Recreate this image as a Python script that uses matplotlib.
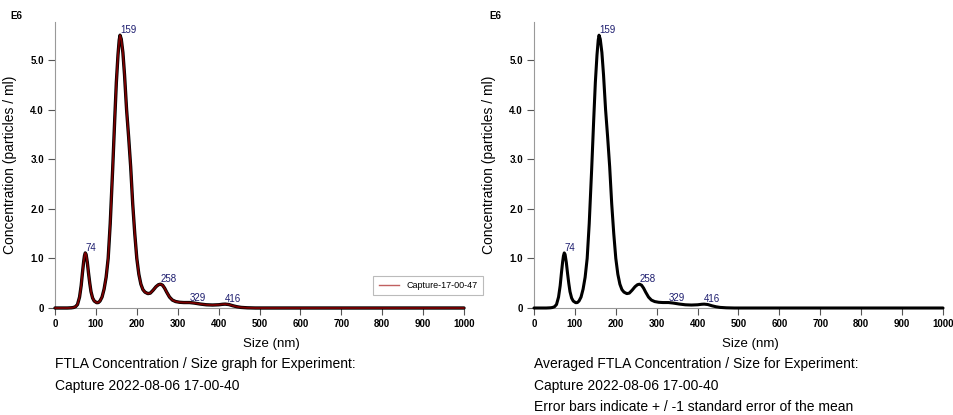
import matplotlib
matplotlib.use("Agg")
import matplotlib.pyplot as plt
from matplotlib.lines import Line2D

plt.rcParams['font.family'] = ['Liberation Sans', 'DejaVu Sans']

# Datos (tamano en nm, concentracion en E6 particulas/ml)
size_nm = [0, 30, 40, 45, 50, 55, 60, 64, 67, 70, 72, 74, 76, 79, 82, 85, 88, 92, 96,
           102, 106, 110, 115, 120, 125, 130, 135, 141, 146, 150, 154, 157, 159, 162,
           166, 170, 175, 180, 185, 190, 195, 200, 205, 210, 215, 220, 227, 233, 240,
           247, 253, 258, 263, 268, 273, 280, 287, 295, 305, 315, 329, 340, 355, 370,
           385, 400, 410, 416, 425, 435, 445, 455, 470, 490, 600, 800, 1000]
conc_capture = [0, 0, 0.004, 0.01, 0.025, 0.07, 0.22, 0.45, 0.7, 0.93, 1.05, 1.11, 1.08,
                0.92, 0.7, 0.5, 0.33, 0.2, 0.14, 0.107, 0.11, 0.14, 0.22, 0.38, 0.62,
                1.0, 1.7, 2.8, 3.8, 4.55, 5.1, 5.4, 5.5, 5.42, 5.15, 4.7, 4.0, 3.45,
                2.85, 2.1, 1.5, 1.0, 0.68, 0.48, 0.37, 0.32, 0.29, 0.3, 0.36, 0.43, 0.47,
                0.48, 0.46, 0.4, 0.32, 0.22, 0.16, 0.13, 0.115, 0.11, 0.11, 0.1, 0.08,
                0.065, 0.06, 0.065, 0.075, 0.078, 0.07, 0.045, 0.025, 0.012, 0.004, 0,
                0, 0, 0]
conc_avg = list(conc_capture)

peak_x = [74, 159, 258, 329, 416]
peak_y = [1.11, 5.5, 0.48, 0.11, 0.078]
peak_labels = ['74', '159', '258', '329', '416']

x_ticks = [0, 100, 200, 300, 400, 500, 600, 700, 800, 900, 1000]
y_ticks = [0, 1, 2, 3, 4, 5]
y_ticklabels = ['0', '1.0', '2.0', '3.0', '4.0', '5.0']

captions_left = ['FTLA Concentration / Size graph for Experiment:',
                 'Capture 2022-08-06 17-00-40']
captions_right = ['Averaged FTLA Concentration / Size for Experiment:',
                  'Capture 2022-08-06 17-00-40',
                  'Error bars indicate + / -1 standard error of the mean']

W, H = 954, 415
fig = plt.figure(figsize=(W / 100, H / 100), dpi=100)


def panel(x0_px, curves, captions):
    ax = fig.add_axes([x0_px / W, 1 - 308 / H, 409 / W, 286 / H])
    for color, lw in curves:
        ax.plot(size_nm, conc_capture if color != 'avg' else conc_avg,
                color='black' if color == 'avg' else color, lw=lw,
                solid_capstyle='round', clip_on=False, zorder=3)
    ax.set_xlim(0, 1000)
    ax.set_ylim(0, 5.766)
    ax.set_xticks(x_ticks)
    ax.set_yticks(y_ticks)
    ax.set_yticklabels(y_ticklabels)
    ax.tick_params(axis='both', labelsize=7, length=5, width=0.8,
                   color='#555555', pad=3)
    for lab in ax.get_xticklabels() + ax.get_yticklabels():
        lab.set_fontweight('bold')
    for s in ['top', 'right']:
        ax.spines[s].set_visible(False)
    for s in ['left', 'bottom']:
        ax.spines[s].set_color('#999999')
        ax.spines[s].set_linewidth(0.8)
    for px, py, lab in zip(peak_x, peak_y, peak_labels):
        ax.annotate(lab, (px, py), xytext=(0, 0), textcoords='offset points',
                    ha='left', va='bottom', fontsize=7, color='#1c1c6e',
                    zorder=4)
    ax.set_xlabel('Size (nm)', fontsize=9.5)
    ax.xaxis.set_label_coords(0.528, -0.105)
    ax.set_ylabel('Concentration (particles / ml)', fontsize=10)
    ax.yaxis.set_label_coords(-0.094, 0.5)
    fig.text((x0_px - 45) / W, 1 - 16 / H, 'E6', fontsize=7, fontweight='bold',
             va='center', ha='left')
    for i, line in enumerate(captions):
        fig.text(x0_px / W, 1 - (364 + 21.5 * i) / H, line, fontsize=10,
                 va='center', ha='left')
    return ax


ax1 = panel(55, [('black', 2.4), ('#7a0000', 1.3)], captions_left)
handle = Line2D([], [], color='#c06060', lw=1)
leg = ax1.legend([handle], ['Capture-17-00-47'], loc='lower right',
                 bbox_to_anchor=(1.058, 0.028), fontsize=6.5, frameon=True,
                 fancybox=False, edgecolor='#aaaaaa', handlelength=2.3,
                 borderpad=0.6)
leg.get_frame().set_linewidth(0.8)

ax2 = panel(534, [('avg', 2.2)], captions_right)

fig.savefig('out.png', dpi=100)
